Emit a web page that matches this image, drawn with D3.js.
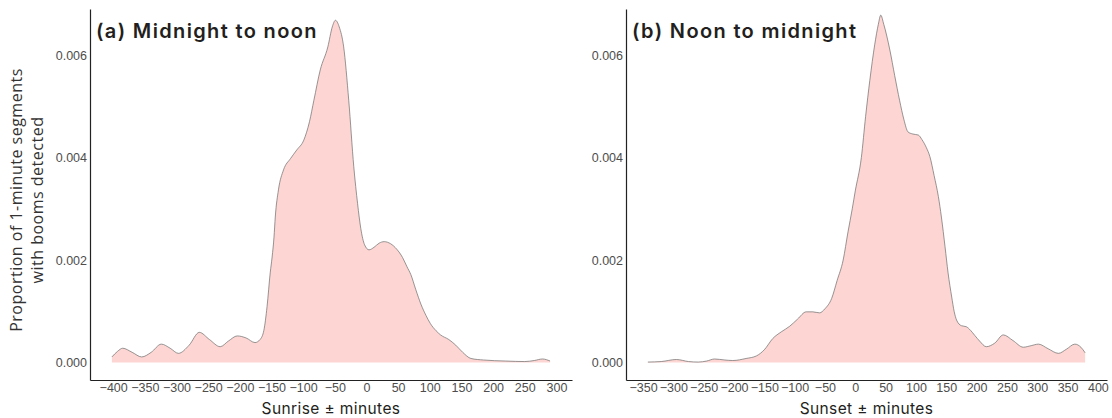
<!DOCTYPE html>
<html lang="en">
<head>
    <meta charset="UTF-8">
    <title>Boom timing density</title>
    <script src="https://d3js.org/d3.v7.min.js"></script>
    <style>
        body {margin: 0; background: #fff;}
        .tick text {font-family: "Liberation Sans", Arial, sans-serif; font-size: 12.5px; fill: #4d4d4d;}
        .axes path.domain {stroke: #222; stroke-width: 1.2px;}
        path.line {fill: none; stroke: #6b6b6b; stroke-width: 0.7px;}
        path.area {fill: #fdd6d3;}
        .panel-title {font-family: Inter, sans-serif; font-weight: 600; font-size: 20px; letter-spacing: 1.35px; fill: #231f20;}
        .x-title {font-family: Inter, sans-serif; font-size: 15.5px; letter-spacing: 0.4px; fill: #231f20;}
        .y-title {font-family: "Open Sans", sans-serif; font-size: 16px; letter-spacing: 0.5px; fill: #333;}
    </style>
</head>
<body>
<script>
    const width  = 1112;
    const height = 418;

    // (a) midnight to noon: minutes relative to sunrise
    const sunriseMinutes = [-402,-393,-385,-370,-355,-340,-324,-310,-297,-280,-264,-248,-231,-218,-204,-190,-176,-168,
        -162,-157,-152,-149,-146,-144,-139,-131,-120,-110,-99,-90,-83,-73,-61,-54,-49,-43,-36,-28,-20,-14,-9,-3,
        4,12,20,28,38,48,57,64,70,78,86,94,101,110,117,130,141,152,165,185,220,250,265,278,290];
    const sunriseDensity = [0.00011,0.00022,0.00028,0.00020,0.00011,0.00020,0.00036,0.00028,0.00018,0.00034,0.00059,0.00045,
        0.00031,0.00042,0.00052,0.00048,0.00039,0.00045,0.00063,0.00109,0.00175,0.00206,0.00245,0.00284,0.00337,0.00376,
        0.00398,0.00415,0.00434,0.00470,0.00512,0.00571,0.00616,0.00655,0.00668,0.00655,0.00616,0.00512,0.00382,0.00310,
        0.00262,0.00230,0.00220,0.00225,0.00233,0.00236,0.00232,0.00221,0.00205,0.00187,0.00172,0.00142,0.00114,0.00092,
        0.00076,0.00062,0.00054,0.00045,0.00034,0.00020,0.00008,0.00005,0.00003,0.00002,0.00004,0.00007,0.00003];

    // (b) noon to midnight: minutes relative to sunset
    const sunsetMinutes = [-342,-320,-295,-275,-259,-245,-232,-215,-202,-180,-163,-150,-136,-122,-108,-95,-81,-70,-59,-50,
        -39,-30,-20,-12,-5,0,10,17,24,32,38,42,47,57,65,73,80,87,95,104,110,117,123,130,137,142,148,153,159,163,167,175,
        183,190,197,205,216,230,244,260,277,290,302,318,335,348,362,372,379];
    const sunsetDensity = [0.00001,0.00002,0.00006,0.00002,0.00001,0.00003,0.00007,0.00005,0.00004,0.00008,0.00013,0.00025,
        0.00047,0.00060,0.00071,0.00085,0.00099,0.00099,0.00097,0.00105,0.00125,0.00160,0.00200,0.00255,0.00300,0.00335,
        0.00400,0.00480,0.00551,0.00620,0.00660,0.00678,0.00660,0.00610,0.00560,0.00512,0.00475,0.00450,0.00446,0.00444,
        0.00435,0.00420,0.00402,0.00365,0.00324,0.00284,0.00226,0.00175,0.00128,0.00100,0.00083,0.00072,0.00070,0.00063,
        0.00053,0.00042,0.00031,0.00038,0.00054,0.00043,0.00030,0.00033,0.00036,0.00027,0.00018,0.00026,0.00036,0.00030,0.00019];

    const sunriseTicks = d3.range(-400, 301, 50);
    const sunsetTicks  = d3.range(-350, 401, 50);
    const yTicks = [0, 0.002, 0.004, 0.006];

    const panels = [
        {title: "(a) Midnight to noon", xLabel: "Sunrise \u00b1 minutes", xs: sunriseMinutes, ys: sunriseDensity,
         ticks: sunriseTicks, left: 90, right: 572},
        {title: "(b) Noon to midnight", xLabel: "Sunset \u00b1 minutes", xs: sunsetMinutes, ys: sunsetDensity,
         ticks: sunsetTicks, left: 626, right: 1107}
    ];

    const plotTop = 9, plotBottom = 380;

    const scaleY = d3.scaleLinear()
            .domain([-0.00034, 0.0069])
            .range([plotBottom, plotTop]);

    const svg = d3.select("body").append("svg").attr("width", width).attr("height", height);

    panels.forEach(p => {
        const data = p.xs.map((x, i) => [x, p.ys[i]]);
        const ext = d3.extent(p.xs);
        const pad = (ext[1] - ext[0]) * 0.05;

        const scaleX = d3.scaleLinear()
                .domain([ext[0] - pad, ext[1] + pad])
                .range([p.left, p.right]);

        const area = d3.area()
                .x(d => scaleX(d[0]))
                .y0(scaleY(0))
                .y1(d => scaleY(d[1]))
                .curve(d3.curveMonotoneX);

        const line = d3.line()
                .x(d => scaleX(d[0]))
                .y(d => scaleY(d[1]))
                .curve(d3.curveMonotoneX);

        const g = svg.append("g");
        g.append("path").attr("class", "area").attr("d", area(data));
        g.append("path").attr("class", "line").attr("d", line(data));

        const axes = g.append("g").attr("class", "axes");
        axes.append("g")
            .attr("transform", "translate(" + [0, plotBottom] + ")")
            .call(d3.axisBottom(scaleX).tickValues(p.ticks).tickSize(0).tickPadding(3).tickSizeOuter(0));
        axes.append("g")
            .attr("transform", "translate(" + [p.left, 0] + ")")
            .call(d3.axisLeft(scaleY).tickValues(yTicks).tickFormat(d3.format(".3f")).tickSize(0).tickPadding(3).tickSizeOuter(0));

        g.append("text").attr("class", "panel-title")
            .attr("x", p.left + 6).attr("y", 38)
            .text(p.title);

        g.append("text").attr("class", "x-title")
            .attr("text-anchor", "middle")
            .attr("x", (p.left + p.right) / 2).attr("y", 414)
            .text(p.xLabel);
    });

    const yTitle = svg.append("text").attr("class", "y-title")
            .attr("text-anchor", "middle")
            .attr("transform", "translate(22,200) rotate(-90)");
    yTitle.append("tspan").attr("x", 0).attr("dy", 0).text("Proportion of 1-minute segments");
    yTitle.append("tspan").attr("x", 0).attr("dy", 21).text("with booms detected");
</script>
</body>
</html>
